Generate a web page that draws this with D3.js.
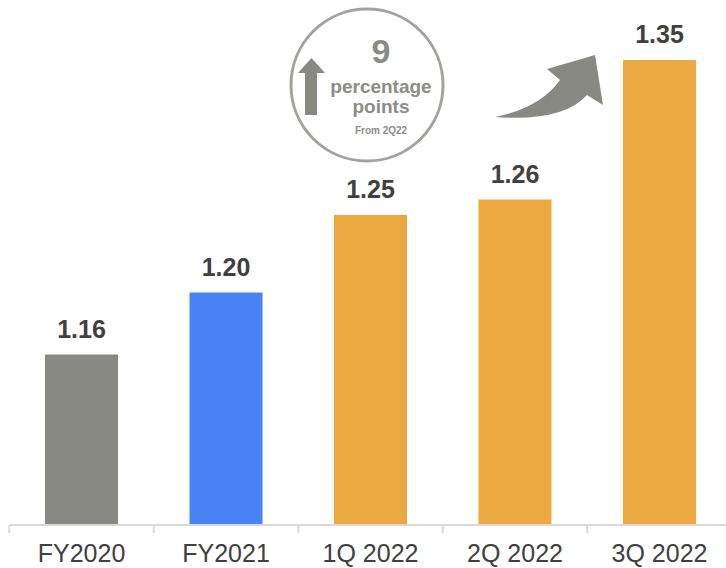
<!DOCTYPE html>
<html>
<head>
<meta charset="utf-8">
<script src="https://cdn.jsdelivr.net/npm/d3@7"></script>
<style>
  body { margin: 0; background: #fff; }
  svg { display: block; font-family: "Liberation Sans", Arial, sans-serif; }
</style>
</head>
<body>
<svg id="chart" width="726" height="568"></svg>
<script>
const categories = ["FY2020", "FY2021", "1Q 2022", "2Q 2022", "3Q 2022"];
const values = [1.16, 1.20, 1.25, 1.26, 1.35];
const barColors = ["#898983", "#4a83f5", "#eca942", "#eca942", "#eca942"];
const badgeLines = ["9", "percentage", "points", "From 2Q22"];

const width = 726, height = 568;
const svg = d3.select("#chart");

// Build X scale (band edges give the tick positions)
var x = d3.scaleBand()
  .range([9.25, 731.75])
  .domain(categories)
  .padding(0);

// Build Y scale
var y = d3.scaleLinear()
  .range([525, 60])
  .domain([1.05, 1.35]);

const barW = x.bandwidth() * 0.505;
const data = categories.map((c, i) => ({cat: c, value: values[i], color: barColors[i]}));

// bars
svg.selectAll("rect.bar")
  .data(data)
  .enter()
  .append("rect")
  .attr("class", "bar")
  .attr("x", d => x(d.cat) + (x.bandwidth() - barW) / 2)
  .attr("y", d => y(d.value))
  .attr("width", barW)
  .attr("height", d => y.range()[0] - y(d.value))
  .style("fill", d => d.color);

// value labels
svg.selectAll("text.val")
  .data(data)
  .enter()
  .append("text")
  .attr("class", "val")
  .attr("x", d => x(d.cat) + x.bandwidth() / 2)
  .attr("y", d => y(d.value) - 17)
  .attr("text-anchor", "middle")
  .style("font-size", "25px")
  .style("font-weight", "bold")
  .style("fill", "#404040")
  .text(d => d.value.toFixed(2));

// X axis
const gx = svg.append("g")
  .attr("transform", "translate(0," + y.range()[0] + ")")
  .call(d3.axisBottom(x).tickSize(0).tickPadding(19));
gx.select(".domain").remove();
gx.selectAll("text")
  .style("font-size", "25px")
  .style("fill", "#404040")
  .style("font-family", "'Liberation Sans', Arial, sans-serif");

gx.append("line")
  .attr("x1", x.range()[0]).attr("x2", width)
  .attr("y1", 0).attr("y2", 0)
  .style("stroke", "#d9d9d9").style("stroke-width", 2);

gx.selectAll("line.tk")
  .data(categories)
  .enter()
  .append("line")
  .attr("class", "tk")
  .attr("x1", d => x(d)).attr("x2", d => x(d))
  .attr("y1", 0).attr("y2", 8)
  .style("stroke", "#d9d9d9").style("stroke-width", 2);

// badge circle
const badge = svg.append("g");
badge.append("circle")
  .attr("cx", 367).attr("cy", 85).attr("r", 76)
  .style("fill", "#fff")
  .style("stroke", "#a3a39e")
  .style("stroke-width", 3);

badge.append("path")
  .attr("d", "M298,73 L311.5,58 L325,73 L317,73 L317,115 L305,115 L305,73 Z")
  .style("fill", "#898983");

const badgeStyle = [
  {y: 63, size: 34},
  {y: 93, size: 19},
  {y: 113, size: 19},
  {y: 134, size: 10}
];
badge.selectAll("text")
  .data(badgeLines)
  .enter()
  .append("text")
  .attr("x", 381)
  .attr("y", (d, i) => badgeStyle[i].y)
  .attr("text-anchor", "middle")
  .style("font-size", (d, i) => badgeStyle[i].size + "px")
  .style("font-weight", "bold")
  .style("fill", "#8c8c87")
  .text(d => d);

// curved arrow
svg.append("path")
  .attr("d", "M495,117 Q540,108 560,80 L547,69 L595,55 L603,105 L587,95 Q563,122 495,117 Z")
  .style("fill", "#898983");
</script>
</body>
</html>
